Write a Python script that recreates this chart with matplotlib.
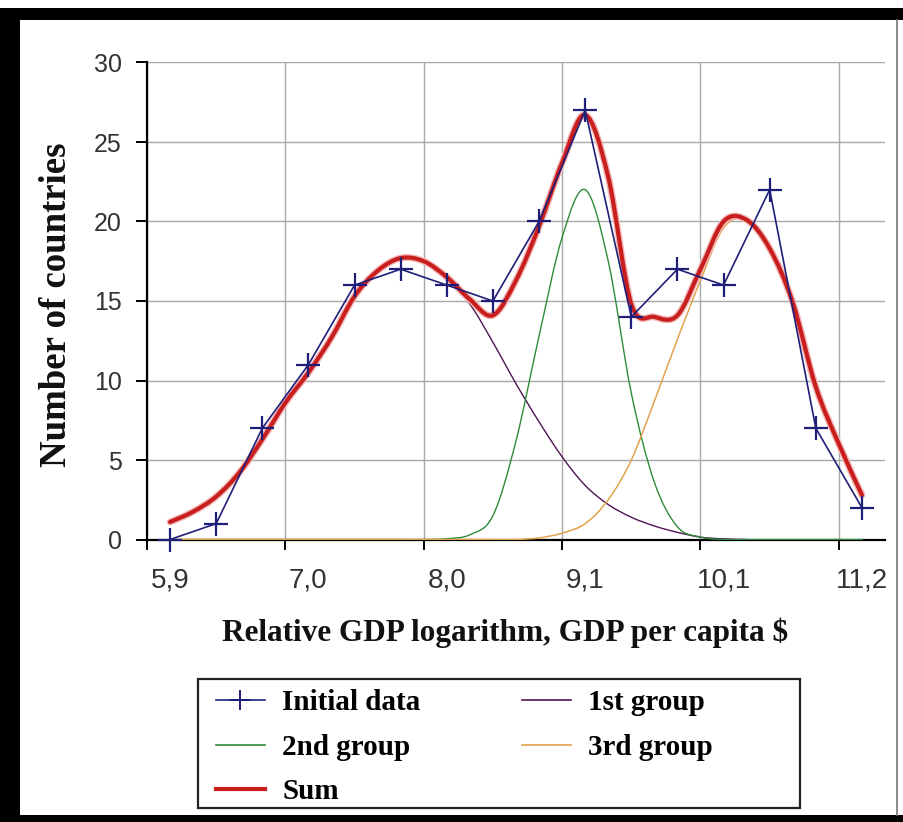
import numpy as np
import matplotlib
matplotlib.use("Agg")
import matplotlib.pyplot as plt
from matplotlib.path import Path
from matplotlib.patches import PathPatch, Rectangle
from matplotlib.lines import Line2D

# Relative GDP logarithm categories (GDP per capita, $)
gdp_log = [5.9, 6.3, 6.6, 7.0, 7.3, 7.7, 8.0, 8.4, 8.7, 9.1, 9.4, 9.8, 10.1, 10.5, 10.8, 11.2]
label_every = 3

# Observed number of countries per class
countries = [0, 1, 7, 11, 16, 17, 16, 15, 20, 27, 14, 17, 16, 22, 7, 2]

# Fitted components, sampled every half class (class index 0, 0.5, 1, ...)
group1 = [1.1, 1.75, 2.7, 4.2, 6.3, 8.6, 10.5, 12.7, 15.3, 16.9, 17.7, 17.4, 16.3, 14.8,
          12.4, 9.8, 7.4, 5.2, 3.4, 2.2, 1.4, 0.85, 0.45, 0.15, 0.04, 0.0]
group2 = [0.0, 0.0, 0.0, 0.0, 0.0, 0.0, 0.0, 0.0, 0.0, 0.0, 0.0, 0.0, 0.05, 0.3,
          1.5, 6.2, 12.8, 19.0, 22.0, 17.5, 9.2, 3.6, 0.8, 0.15, 0.0, 0.0,
          0.0, 0.0, 0.0, 0.0, 0.0]
group3 = [0.0, 0.0, 0.0, 0.0, 0.0, 0.0, 0.0, 0.0, 0.0, 0.0, 0.0, 0.0, 0.0, 0.0,
          0.0, 0.0, 0.1, 0.4, 1.0, 2.5, 5.0, 8.7, 12.6, 16.3, 19.6, 20.1,
          18.3, 14.9, 9.6, 6.0, 2.8]
total = [1.1, 1.75, 2.7, 4.2, 6.3, 8.6, 10.5, 12.7, 15.3, 16.9, 17.7, 17.5, 16.5, 15.1,
         14.1, 16.3, 19.7, 23.7, 26.7, 22.8, 14.8, 14.0, 14.1, 17.0, 20.0, 20.1,
         18.3, 14.9, 9.6, 6.0, 2.8]

C_DATA = "#1f1f7a"
C_G1 = "#4e1452"
C_G2 = "#2f8a3a"
C_G3 = "#e3a24f"
C_SUM = "#c81e1e"


def smooth_path(xs, ys):
    """Cubic Bezier path through the points (Catmull-Rom style smoothing)."""
    pts = np.column_stack([xs, ys]).astype(float)
    n = len(pts)
    verts = [pts[0]]
    codes = [Path.MOVETO]
    for i in range(n - 1):
        p0 = pts[i - 1] if i > 0 else pts[i]
        p1 = pts[i]
        p2 = pts[i + 1]
        p3 = pts[i + 2] if i + 2 < n else pts[i + 1]
        c1 = p1 + (p2 - p0) / 6.0
        c2 = p2 - (p3 - p1) / 6.0
        verts += [c1, c2, p2]
        codes += [Path.CURVE4] * 3
    return Path(verts, codes)


def add_smooth(ax, values, color, lw, z):
    xs = np.arange(len(values)) * 0.5
    patch = PathPatch(smooth_path(xs, values), facecolor="none", edgecolor=color,
                      lw=lw, zorder=z, capstyle="round", joinstyle="round")
    ax.add_patch(patch)


W, H = 904, 822
fig = plt.figure(figsize=(W / 100, H / 100), dpi=100)
fig.patch.set_facecolor("white")

ax = fig.add_axes([147 / W, 1 - 539.5 / H, 738 / W, 477 / H])
ax.set_xlim(-0.5, len(gdp_log) - 0.5)
ax.set_ylim(0, 30)

# component curves and their sum
add_smooth(ax, group1, C_G1, 1.0, 3)
add_smooth(ax, group2, C_G2, 1.0, 3.1)
add_smooth(ax, group3, C_G3, 1.1, 3.2)
add_smooth(ax, total, "#f2b8b8", 5.0, 3.3)
add_smooth(ax, total, C_SUM, 3.0, 3.4)

# observed data
idx = np.arange(len(countries))
ax.plot(idx, countries, color=C_DATA, lw=1.2, marker="+", markersize=17,
        markeredgewidth=1.6, zorder=4, clip_on=False)

# axes, grid and ticks
for side in ("top", "right"):
    ax.spines[side].set_visible(False)
ax.spines["left"].set_linewidth(1.6)
ax.spines["bottom"].set_linewidth(1.6)

ax.set_yticks(np.arange(0, 31, 5))
ax.set_yticklabels([str(v) for v in range(0, 31, 5)], fontfamily="Liberation Sans",
                   fontsize=18, color="#333333")
ax.tick_params(axis="y", direction="out", length=8, width=1.4, pad=10)

bounds = np.arange(-0.5, len(gdp_log), label_every)
ax.set_xticks(bounds)
ax.set_xticklabels([""] * len(bounds))
ax.tick_params(axis="x", which="major", direction="out", length=7, width=1.4)

lab_pos = idx[::label_every]
ax.set_xticks(lab_pos, minor=True)
ax.set_xticklabels([f"{gdp_log[i]:.1f}".replace(".", ",") for i in lab_pos], minor=True,
                   fontfamily="Liberation Sans", fontsize=20, color="#333333")
ax.tick_params(axis="x", which="minor", length=0, pad=20)

ax.grid(True, axis="y", color="#a8a8a8", lw=1.0, zorder=1)
ax.grid(True, axis="x", which="major", color="#a8a8a8", lw=1.0, zorder=1)
ax.set_axisbelow(True)

serif_bold = dict(fontfamily="Liberation Serif", fontweight="bold", color="#111111")
fig.text(505 / W, 1 - 633 / H, "Relative GDP logarithm, GDP per capita $",
         ha="center", va="center", fontsize=22.5, **serif_bold)
fig.text(57 / W, 1 - 305 / H, "Number of countries", rotation=90,
         ha="center", va="center", fontsize=26.5, **serif_bold)

# legend
handles = [
    Line2D([], [], color=C_DATA, lw=1.2, marker="+", markersize=14, markeredgewidth=1.4),
    Line2D([], [], color=C_G2, lw=1.2),
    Line2D([], [], color=C_SUM, lw=3.0),
    Line2D([], [], color=C_G1, lw=1.2),
    Line2D([], [], color=C_G3, lw=1.2),
]
labels = ["Initial data", "2nd group", "Sum", "1st group", "3rd group"]
leg = fig.legend(handles, labels, loc="upper left", bbox_to_anchor=(196 / W, 1 - 669 / H),
                 ncol=2, frameon=False, handlelength=1.65, handletextpad=0.6,
                 columnspacing=3.5, labelspacing=0.6, borderpad=0.2,
                 prop=dict(family="Liberation Serif", weight="bold", size=21))
fig.add_artist(Rectangle((198 / W, 1 - 808 / H), 602 / W, 129 / H, transform=fig.transFigure,
                         facecolor="none", edgecolor="#222222", lw=1.6))

# picture frame
fig.add_artist(Rectangle((0, 1 - 20 / H), 1, 12 / H, transform=fig.transFigure,
                         facecolor="black", edgecolor="none"))
fig.add_artist(Rectangle((0, 0), 20 / W, 1 - 8 / H, transform=fig.transFigure,
                         facecolor="black", edgecolor="none"))
fig.add_artist(Rectangle((0, 0), 1, 7 / H, transform=fig.transFigure,
                         facecolor="black", edgecolor="none"))
fig.add_artist(Line2D([897 / W, 897 / W], [7 / H, 1 - 20 / H], transform=fig.transFigure,
                      color="#777777", lw=1.2))

fig.savefig("out.png", dpi=100, facecolor="white")
